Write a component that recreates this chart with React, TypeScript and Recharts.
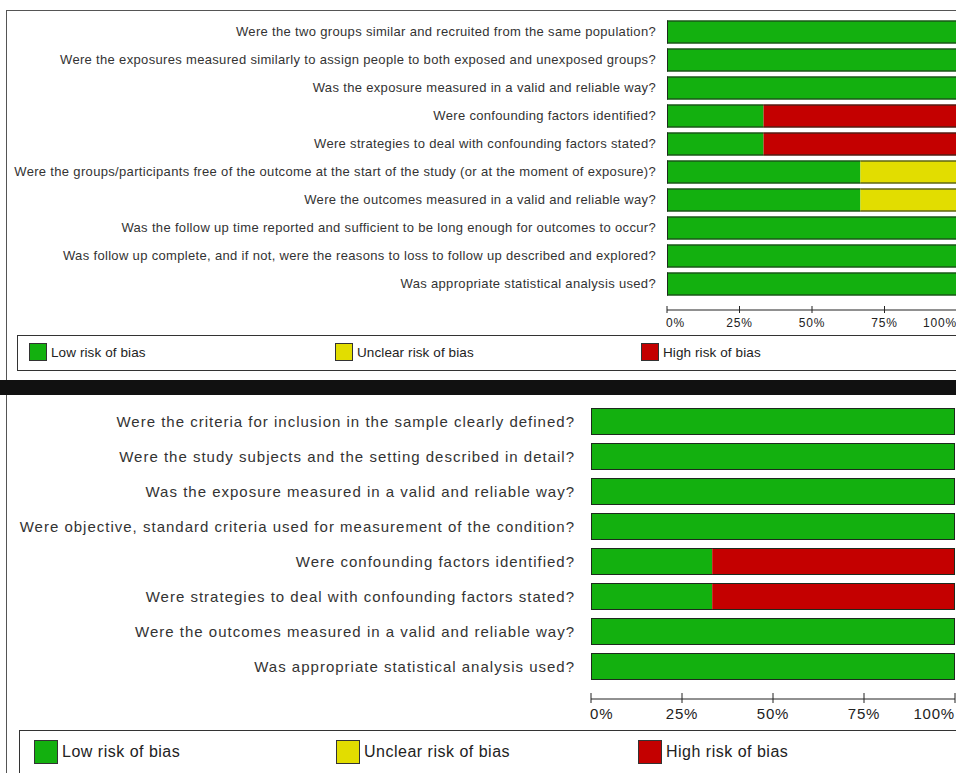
import React from 'react';
import { BarChart, Bar, XAxis, YAxis } from 'recharts';

// Risk-of-bias summary, two checklists

const topQuestions = [
  'Were the two groups similar and recruited from the same population?',
  'Were the exposures measured similarly to assign people to both exposed and unexposed groups?',
  'Was the exposure measured in a valid and reliable way?',
  'Were confounding factors identified?',
  'Were strategies to deal with confounding factors stated?',
  'Were the groups/participants free of the outcome at the start of the study (or at the moment of exposure)?',
  'Were the outcomes measured in a valid and reliable way?',
  'Was the follow up time reported and sufficient to be long enough for outcomes to occur?',
  'Was follow up complete, and if not, were the reasons to loss to follow up described and explored?',
  'Was appropriate statistical analysis used?',
];
const topLow = [100, 100, 100, 33.3, 33.3, 66.7, 66.7, 100, 100, 100];
const topUnclear = [0, 0, 0, 0, 0, 33.3, 33.3, 0, 0, 0];
const topHigh = [0, 0, 0, 66.7, 66.7, 0, 0, 0, 0, 0];

const bottomQuestions = [
  'Were the criteria for inclusion in the sample clearly defined?',
  'Were the study subjects and the setting described in detail?',
  'Was the exposure measured in a valid and reliable way?',
  'Were objective, standard criteria used for measurement of the condition?',
  'Were confounding factors identified?',
  'Were strategies to deal with confounding factors stated?',
  'Were the outcomes measured in a valid and reliable way?',
  'Was appropriate statistical analysis used?',
];
const bottomLow = [100, 100, 100, 100, 33.3, 33.3, 100, 100];
const bottomUnclear = [0, 0, 0, 0, 0, 0, 0, 0];
const bottomHigh = [0, 0, 0, 0, 66.7, 66.7, 0, 0];

const pctTicks = [0, 25, 50, 75, 100];
const legendLabels = ['Low risk of bias', 'Unclear risk of bias', 'High risk of bias'];

const GREEN = '#13b00f';
const YELLOW = '#e2dd00';
const RED = '#c40000';
const EDGE = '#1d2a1d';
const FONT = '"Liberation Sans", Arial, sans-serif';

const build = (q: string[], low: number[], unc: number[], high: number[]) =>
  q.map((question, i) => ({ question, low: low[i], unclear: unc[i], high: high[i] }));

const topData = build(topQuestions, topLow, topUnclear, topHigh);
const bottomData = build(bottomQuestions, bottomLow, bottomUnclear, bottomHigh);

// one segment of a stacked bar; outline only on the outside of the whole bar
const segment = (key: 'low' | 'unclear' | 'high') => (props: any) => {
  const { x, y, width, height, fill, payload } = props;
  if (!width || width <= 0) return <g />;
  const before = key === 'low' ? 0 : key === 'unclear' ? payload.low : payload.low + payload.unclear;
  const after = key === 'low' ? payload.unclear + payload.high : key === 'unclear' ? payload.high : 0;
  return (
    <g>
      <rect x={x} y={y} width={width} height={height} fill={fill} />
      <line x1={x} x2={x + width} y1={y + 0.5} y2={y + 0.5} stroke={EDGE} />
      <line x1={x} x2={x + width} y1={y + height - 0.5} y2={y + height - 0.5} stroke={EDGE} />
      {before === 0 && <line x1={x + 0.5} x2={x + 0.5} y1={y} y2={y + height} stroke={EDGE} />}
      {after === 0 && <line x1={x + width - 0.5} x2={x + width - 0.5} y1={y} y2={y + height} stroke={EDGE} />}
    </g>
  );
};

const qTick = (size: number, spacing: number) => (props: any) => {
  const { x, y, payload } = props;
  return (
    <text x={x} y={y} dy={size * 0.36} textAnchor="end" fontSize={size} letterSpacing={spacing}
      fill="#333" fontFamily={FONT}>
      {payload.value}
    </text>
  );
};

const pTick = (size: number, up: number, down: number, dy: number) => (props: any) => {
  const { x, y, payload } = props;
  const anchor = payload.value === 0 ? 'start' : payload.value === 100 ? 'end' : 'middle';
  return (
    <g>
      <line x1={x} x2={x} y1={y - up} y2={y + down} stroke="#222" />
      <text x={payload.value === 0 ? x - 1 : x} y={y + dy} textAnchor={anchor} fontSize={size}
        letterSpacing={0.8} fill="#222" fontFamily={FONT}>
        {payload.value}%
      </text>
    </g>
  );
};

function RiskChart({ data, width, height, yWidth, right, top, padBottom, barSize, qSize, qSpacing, qMargin, pSize, tUp, tDown, tDy }: any) {
  return (
    <BarChart layout="vertical" data={data} width={width} height={height}
      margin={{ top, right, bottom: 0, left: 0 }} barCategoryGap={0}>
      <XAxis type="number" domain={[0, 100]} ticks={pctTicks} height={30} tickSize={0} tickMargin={0}
        tickLine={false} axisLine={{ stroke: '#222' }} tick={pTick(pSize, tUp, tDown, tDy)} interval={0} />
      <YAxis type="category" dataKey="question" width={yWidth} axisLine={false} tickLine={false}
        tickSize={0} tickMargin={qMargin} padding={{ top: 0, bottom: padBottom }} interval={0}
        tick={qTick(qSize, qSpacing)} />
      <Bar dataKey="low" stackId="a" fill={GREEN} barSize={barSize} isAnimationActive={false} shape={segment('low')} />
      <Bar dataKey="unclear" stackId="a" fill={YELLOW} barSize={barSize} isAnimationActive={false} shape={segment('unclear')} />
      <Bar dataKey="high" stackId="a" fill={RED} barSize={barSize} isAnimationActive={false} shape={segment('high')} />
    </BarChart>
  );
}

function LegendBox({ left, top, height, box, boxTop, size, spacing, xs }: any) {
  const colors = [GREEN, YELLOW, RED];
  return (
    <div style={{ position: 'absolute', left, top, width: 960, height, border: '1px solid #333', boxSizing: 'border-box', background: '#fff' }}>
      {legendLabels.map((label, i) => (
        <div key={label} style={{ position: 'absolute', left: xs[i] - left, top: boxTop, display: 'flex', alignItems: 'center' }}>
          <span style={{ width: box, height: box, background: colors[i], border: '1px solid #333', boxSizing: 'border-box', display: 'inline-block' }} />
          <span style={{ marginLeft: 4, fontSize: size, letterSpacing: spacing, color: '#222', fontFamily: FONT, whiteSpace: 'nowrap' }}>{label}</span>
        </div>
      ))}
    </div>
  );
}

export default function App() {
  return (
    <div style={{ position: 'absolute', left: 0, top: 0, width: 956, height: 773, overflow: 'hidden', background: '#fff' }}>
      {/* top panel frame */}
      <div style={{ position: 'absolute', left: 6, top: 10, width: 960, height: 372, borderTop: '1px solid #555', borderLeft: '1px solid #555' }} />
      <div style={{ position: 'absolute', left: 0, top: 0 }}>
        <RiskChart data={topData} width={960} height={340} yWidth={667} right={3} top={17.5} padBottom={12.5}
          barSize={23} qSize={13} qSpacing={0.33} qMargin={11} pSize={12} tUp={4} tDown={3} tDy={17} />
      </div>
      <LegendBox left={17} top={335} height={36} box={18} boxTop={7} size={13.5} spacing={0.1} xs={[28, 334, 640]} />

      <div style={{ position: 'absolute', left: 0, top: 380, width: 956, height: 15, background: '#111' }} />

      {/* bottom panel frame */}
      <div style={{ position: 'absolute', left: 6, top: 395, width: 960, height: 400, borderLeft: '1px solid #555' }} />
      <div style={{ position: 'absolute', left: 0, top: 395 }}>
        <RiskChart data={bottomData} width={956} height={334} yWidth={591} right={1} top={9} padBottom={15}
          barSize={27} qSize={15} qSpacing={1.0} qMargin={16} pSize={15} tUp={6} tDown={4} tDy={20} />
      </div>
      <LegendBox left={19} top={730} height={50} box={24} boxTop={9} size={16} spacing={0.5} xs={[33, 335, 637]} />
    </div>
  );
}
